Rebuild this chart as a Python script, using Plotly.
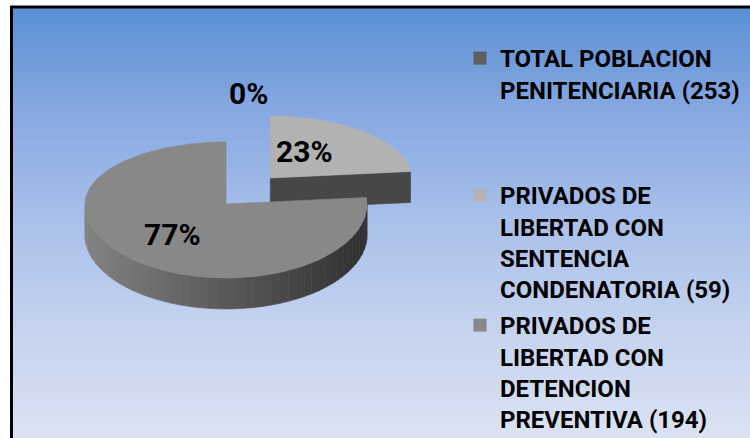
import math
import plotly.graph_objects as go

# ---------------- data ----------------
categories = [
    "TOTAL POBLACION<br>PENITENCIARIA (253)",
    "PRIVADOS DE<br>LIBERTAD CON<br>SENTENCIA<br>CONDENATORIA (59)",
    "PRIVADOS DE<br>LIBERTAD CON<br>DETENCION<br>PREVENTIVA (194)",
]
values = [0, 59, 194]
pct_labels = ["0%", "23%", "77%"]

# ---------------- style ----------------
W, H = 750, 438
FONT = "Roboto, Liberation Sans, Arial, sans-serif"
top_colors = ["#5f5f5f", "#b2b2b2", "#888888"]
legend_colors = ["#5f5f5f", "#b2b2b2", "#878787"]
cut_color = "#474747"
pulls = [0.0, 0.47, 0.0]
PULL_Y_SCALE = 1.2
CX, CY, RX, RY_BACK, RY_FRONT, DEPTH = 226, 204, 141, 62, 74, 31
label_r = [1.7, 0.45, 0.5]
label_shift = [(22, -5), (-8, -6), (-6, 3)]

fig = go.Figure()

total = sum(values)
angles = []
a = 90.0
for v in values:
    span = 360.0 * v / total
    angles.append((a, a - span))
    a -= span


def pt(cx, cy, th):
    r = math.radians(th)
    s = math.sin(r)
    ry = RY_BACK if s > 0 else RY_FRONT
    return cx + RX * math.cos(r), cy - ry * s


def arc(th0, th1, n):
    return [th0 + (th1 - th0) * i / n for i in range(n + 1)]


def shade(x, x0, x1):
    t = min(max((x - x0) / (x1 - x0), 0), 1)
    c0, c1 = (0x82, 0x82, 0x82), (0x30, 0x30, 0x30)
    c = [round(c0[k] + (c1[k] - c0[k]) * t) for k in range(3)]
    return "rgb(%d,%d,%d)" % tuple(c)


def add_poly(xs, ys, color):
    fig.add_trace(go.Scatter(x=xs + [xs[0]], y=ys + [ys[0]], mode="lines",
                             fill="toself", fillcolor=color,
                             line=dict(width=0.6, color=color),
                             hoverinfo="skip", showlegend=False))


def slice_center(i):
    th0, th1 = angles[i]
    mid = math.radians((th0 + th1) / 2)
    s = math.sin(mid)
    ry = RY_BACK if s > 0 else RY_FRONT
    return (CX + pulls[i] * RX * math.cos(mid),
            CY - pulls[i] * PULL_Y_SCALE * ry * s)


# draw pulled (back) slices first, then the rest
order = sorted(range(len(values)), key=lambda i: -pulls[i])
for i in order:
    if values[i] == 0:
        continue
    th0, th1 = angles[i]
    cx, cy = slice_center(i)
    # cut faces
    if math.cos(math.radians(th1)) > 1e-6:
        ex, ey = pt(cx, cy, th1)
        add_poly([cx, ex, ex, cx], [cy, ey, ey + DEPTH, cy + DEPTH], cut_color)
    if math.cos(math.radians(th0)) < -1e-6:
        ex, ey = pt(cx, cy, th0)
        add_poly([cx, ex, ex, cx], [cy, ey, ey + DEPTH, cy + DEPTH], cut_color)
    # front side wall
    lo, hi = max(min(th0, th1), -180.0), min(max(th0, th1), 0.0)
    if hi > lo:
        n = 48
        ths = arc(lo, hi, n)
        for k in range(n):
            p0 = pt(cx, cy, ths[k])
            p1 = pt(cx, cy, ths[k + 1])
            col = shade((p0[0] + p1[0]) / 2, cx - RX, cx + RX)
            add_poly([p0[0], p1[0], p1[0], p0[0]],
                     [p0[1], p1[1], p1[1] + DEPTH, p0[1] + DEPTH], col)
    # top face
    ths = arc(th0, th1, 120)
    xs = [cx] + [pt(cx, cy, t)[0] for t in ths]
    ys = [cy] + [pt(cx, cy, t)[1] for t in ths]
    add_poly(xs, ys, top_colors[i])

# percentage labels
for i, lab in enumerate(pct_labels):
    th0, th1 = angles[i]
    mid = (th0 + th1) / 2
    cx, cy = slice_center(i)
    px, py = pt(cx, cy, mid)
    lx = cx + label_r[i] * (px - cx)
    ly = cy + label_r[i] * (py - cy)
    fig.add_annotation(x=lx, y=ly, text="<b>%s</b>" % lab, showarrow=False,
                       xshift=label_shift[i][0], yshift=-label_shift[i][1],
                       font=dict(family=FONT, size=30, color="black"))

# legend entries
legend_ids = ["legend", "legend2", "legend3"]
legend_tops = [36, 173, 303]
for i, name in enumerate(categories):
    fig.add_trace(go.Scatter(x=[None], y=[None], mode="markers", name="<b>%s</b>" % name,
                             marker=dict(symbol="square", size=13, color=legend_colors[i]),
                             legend=legend_ids[i], hoverinfo="skip"))

# gradient background
stops = [(8, (0x5a, 0x8f, 0xd5)), (100, (0x82, 0xa6, 0xe0)), (220, (0xa9, 0xc0, 0xea)),
         (330, (0xc5, 0xd3, 0xef)), (438, (0xdb, 0xe3, 0xf3))]


def grad(y):
    for (y0, c0), (y1, c1) in zip(stops, stops[1:]):
        if y <= y1:
            t = (y - y0) / (y1 - y0)
            return "rgb(%d,%d,%d)" % tuple(round(c0[k] + (c1[k] - c0[k]) * t) for k in range(3))
    return "rgb(%d,%d,%d)" % stops[-1][1]


shapes = []
step = 4
y = 8
while y < H:
    shapes.append(dict(type="rect", xref="paper", yref="paper", layer="below",
                       x0=12 / W, x1=1.0, y0=1 - (y + step + 0.5) / H, y1=1 - y / H,
                       fillcolor=grad(y + step / 2), line=dict(width=0)))
    y += step
shapes.append(dict(type="rect", xref="paper", yref="paper", layer="above",
                   x0=11.5 / W, x1=1.05, y0=-0.05, y1=1 - 7 / H,
                   line=dict(color="black", width=3), fillcolor="rgba(0,0,0,0)"))

legend_common = dict(xref="container", yref="container",
                     xanchor="left", yanchor="top", x=460 / W, bgcolor="rgba(0,0,0,0)",
                     borderwidth=0, valign="top", tracegroupgap=0,
                     font=dict(family=FONT, size=24, color="black"))
layout_legends = {}
for lid, top in zip(legend_ids, legend_tops):
    layout_legends[lid] = dict(legend_common, y=1 - top / H)

fig.update_layout(
    width=W, height=H, margin=dict(l=0, r=0, t=0, b=0, autoexpand=False),
    paper_bgcolor="white", plot_bgcolor="rgba(0,0,0,0)",
    xaxis=dict(range=[0, W], visible=False, fixedrange=True),
    yaxis=dict(range=[H, 0], visible=False, fixedrange=True),
    shapes=shapes, showlegend=True,
    **layout_legends,
)

fig.write_html("out.html", config={"displayModeBar": False},
               post_script="document.body.style.margin='0';document.body.style.overflow='hidden';")
